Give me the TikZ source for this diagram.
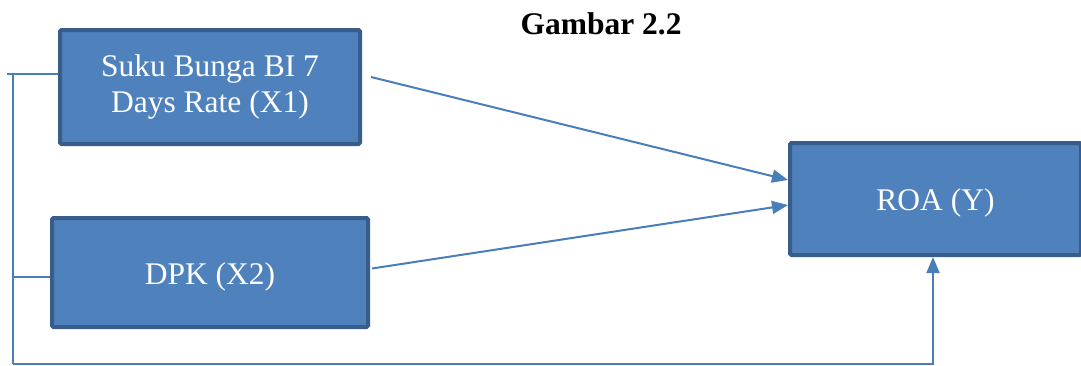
\documentclass[tikz,border=0pt]{standalone}
\usepackage{fontspec}
\setmainfont{Liberation Serif}
\usetikzlibrary{arrows.meta}
\definecolor{boxfill}{HTML}{4F81BD}
\definecolor{boxedge}{HTML}{385D8A}
\definecolor{linkblue}{HTML}{4A7EBB}
\tikzset{
  varbox/.style={draw=boxedge, fill=boxfill, line width=4pt, rounded corners=1.5pt,
    text=white, align=center, inner sep=0pt,
    font=\fontsize{31.5}{36}\selectfont},
  oneline/.style={text height=24pt, text depth=1pt},
  link/.style={draw=linkblue, line width=2pt},
  arrowlink/.style={link, -{Triangle[length=16pt,width=13pt]}}
}
\begin{document}
\begin{tikzpicture}[x=1pt,y=-1pt]
  \useasboundingbox (0,0) rectangle (1081,365);

  % heading
  \node (title) at (601,24) {\fontsize{31.5}{36}\selectfont\bfseries Gambar 2.2};

  % variable boxes
  \node[varbox, minimum width=300pt, minimum height=114pt] (x1) at (210,87)
    {Suku Bunga BI 7\\Days Rate (X1)};
  \node[varbox, oneline, minimum width=316pt, minimum height=109pt] (x2) at (210,272.5)
    {DPK (X2)};
  \node[varbox, oneline, minimum width=291pt, minimum height=112pt] (roa) at (935.5,199)
    {ROA (Y)};

  % left bracket joining both independent variables
  \coordinate (tl) at (7,74);
  \coordinate (tv) at (13,74);
  \coordinate (bl) at (13,364);
  \draw[link] (tl) -- (x1.west |- tl);
  \draw[link] (tv) -- (bl);
  \draw[link] ([yshift=-4pt]tv |- x2.west) -- ([yshift=-4pt]x2.west);

  % joint influence path into ROA
  \draw[arrowlink] (bl) -| ([xshift=-2.5pt]roa.south);

  % partial influences
  \draw[arrowlink] ([xshift=9pt,yshift=10pt]x1.east) -- ([yshift=19pt]roa.west);
  \draw[arrowlink] ([xshift=2pt,yshift=4pt]x2.east) -- ([yshift=-6pt]roa.west);
\end{tikzpicture}
\end{document}
